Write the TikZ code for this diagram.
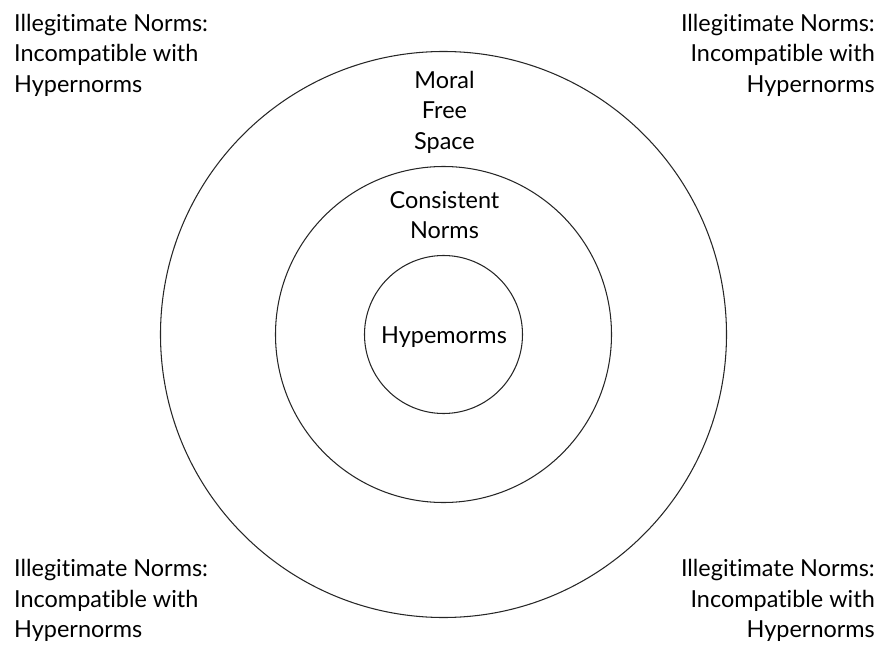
\documentclass[tikz,border=0pt]{standalone}
\usepackage{fontspec}
\setmainfont{Lato}[Ligatures=NoCommon]
\usepackage{tikz}
\usetikzlibrary{positioning}

\begin{document}
\begin{tikzpicture}[x=0.03cm,y=0.03cm,
    ring/.style={draw=black!85,line width=0.9pt},
    lbl/.style={inner sep=0pt,align=center,font=\fontsize{20}{26}\selectfont},
    cornerL/.style={inner sep=0pt,align=left,anchor=north west,font=\fontsize{20}{26}\selectfont},
    cornerR/.style={inner sep=0pt,align=right,anchor=north east,font=\fontsize{20}{26}\selectfont}]
  \useasboundingbox (-443.5,-310.5) rectangle (437.5,334.5);
  \coordinate (c) at (0,0);

  % three nested circles
  \draw[ring] (c) circle (283);
  \draw[ring] (c) circle (168);
  \draw[ring] (c) circle (79);

  % labels inside the rings
  \node[lbl,anchor=north] (mfs) at (1,263.5) {Moral\\Free\\Space};
  \node[lbl,anchor=north] (cons) at (1,143.5) {Consistent\\Norms};
  \node[lbl,anchor=base] (hyp) at (0.5,-8.5) {Hypemorms};

  % corner texts
  \node[cornerL] (tl) at (-429.5,320.5) {Illegitimate Norms:\\Incompatible with\\Hypernorms};
  \node[cornerR] (tr) at (431.5,320.5) {Illegitimate Norms:\\Incompatible with\\Hypernorms};
  \node[cornerL] (bl) at (-429.5,-225) {Illegitimate Norms:\\Incompatible with\\Hypernorms};
  \node[cornerR] (br) at (431.5,-225) {Illegitimate Norms:\\Incompatible with\\Hypernorms};
\end{tikzpicture}
\end{document}
